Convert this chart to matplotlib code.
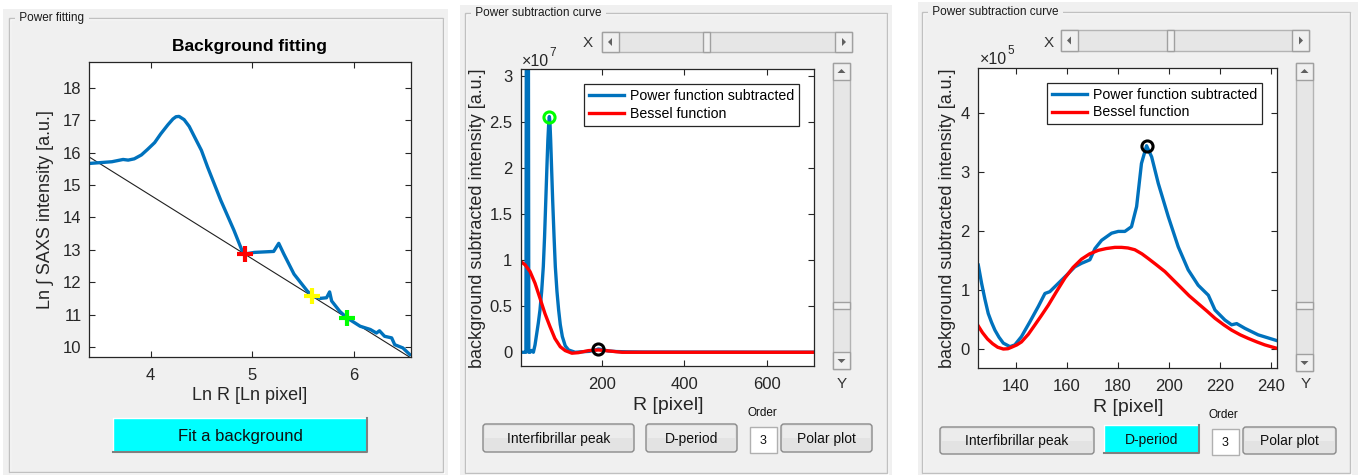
import numpy as np
import matplotlib
matplotlib.use('Agg')
import matplotlib.pyplot as plt
from matplotlib.patches import Rectangle, FancyBboxPatch, Polygon

W, H = 1358, 475

# ---- panel 1: background fitting (log-log)
lnr = [3.39, 3.41, 3.62, 3.73, 3.78, 3.84, 3.91, 3.97, 4.04, 4.10, 4.17, 4.22, 4.25, 4.28,
       4.33, 4.38, 4.43, 4.50, 4.56, 4.69, 4.82, 4.90, 4.93, 5.02, 5.21, 5.26, 5.31, 5.41,
       5.54, 5.59, 5.67, 5.73, 5.76, 5.78, 5.86, 5.93, 6.06, 6.16, 6.22, 6.25, 6.30, 6.37,
       6.40, 6.48, 6.55]
lni = [15.67, 15.67, 15.72, 15.79, 15.77, 15.81, 15.93, 16.10, 16.31, 16.58, 16.86, 17.04,
       17.11, 17.12, 17.02, 16.81, 16.50, 16.07, 15.56, 14.53, 13.60, 12.97, 12.87, 12.92,
       12.95, 13.20, 12.87, 12.25, 11.73, 11.58, 11.50, 11.52, 11.70, 11.42, 11.10, 10.90,
       10.64, 10.54, 10.43, 10.50, 10.33, 10.28, 10.07, 9.97, 9.76]
fit_x = [3.39, 6.56]
fit_y = [15.88, 9.66]
cross_x = [4.93, 5.59, 5.93]
cross_y = [12.87, 11.58, 10.90]
cross_c = ['#ff0000', '#ffff00', '#00ff00']

# ---- panel 2: subtraction curve, full range (x1e7)
r2_blue = [5, 12, 17, 20.5, 24, 27, 31, 35, 39, 43, 47, 51, 55, 59, 62, 65, 68, 70, 72,
           73.6, 75, 76.8, 79, 81.6, 85, 88, 92, 96, 100, 105, 112, 120, 136, 150, 170,
           185, 192, 200, 215, 235, 260, 300, 400, 500, 600, 710]
i2_blue = [0, 0, 0, 12, 0, 0, 0.02, 0, 0.08, 0.2, 0.32, 0.46, 0.66, 0.93, 1.25, 1.65,
           2.05, 2.3, 2.48, 2.56, 2.5, 2.3, 2.0, 1.65, 1.25, 0.93, 0.66, 0.46, 0.3, 0.17,
           0.07, 0.025, 0, 0.005, 0.01, 0.025, 0.036, 0.03, 0.015, 0.008, 0.005, 0.003,
           0.002, 0.002, 0.001, 0.001]
r2_red = [4.4, 15, 27, 39, 51, 63, 75, 87, 100, 112, 128, 144, 168, 192, 216, 249, 400, 712]
i2_red = [0.985, 0.95, 0.876, 0.75, 0.586, 0.42, 0.28, 0.15, 0.06, 0.018, -0.01, -0.004,
          0.018, 0.025, 0.015, 0, 0, 0]
peak2_green = (73.6, 2.56)
peak2_black = (192, 0.036)

# ---- panel 3: subtraction curve, zoomed (x1e5)
r3_blue = [125.4, 126.7, 128, 129.3, 130.6, 131.9, 133.5, 135.2, 137.8, 139.7, 142.3, 145.6,
           148.9, 151.5, 153.4, 156.7, 160, 163.2, 165.8, 169.1, 171.1, 173.7, 177.6, 180.2,
           182.8, 185.4, 187.4, 189.3, 191.3, 193.3, 195.9, 199.8, 203.7, 207.6, 211.5,
           215.5, 218.1, 222, 224.6, 226.6, 229.8, 235, 242.5]
i3_blue = [1.42, 1.11, 0.84, 0.60, 0.45, 0.32, 0.20, 0.10, 0.04, 0.07, 0.21, 0.46, 0.72,
           0.94, 0.97, 1.11, 1.25, 1.39, 1.45, 1.51, 1.70, 1.84, 1.96, 1.99, 1.99, 2.07,
           2.41, 3.14, 3.44, 3.25, 2.80, 2.24, 1.73, 1.34, 1.08, 0.91, 0.66, 0.49, 0.41,
           0.43, 0.35, 0.24, 0.14]
r3_red = [125.4, 127, 129, 131, 133, 135.2, 137, 138.4, 140.5, 142.3, 145, 147.6, 150,
          152.8, 156, 159.3, 162.5, 165.8, 169, 172.4, 175.5, 178.9, 181.5, 184, 186.7,
          189.5, 192, 195, 198.5, 201.5, 205, 208, 211.5, 215, 218.1, 221.5, 224.6, 228,
          231.1, 234.5, 237.6, 240, 242.5]
i3_red = [0.39, 0.28, 0.17, 0.09, 0.03, 0.0, 0.005, 0.03, 0.07, 0.12, 0.25, 0.41, 0.56,
          0.74, 0.97, 1.20, 1.38, 1.52, 1.61, 1.67, 1.70, 1.72, 1.72, 1.71, 1.68, 1.61,
          1.53, 1.43, 1.31, 1.18, 1.03, 0.90, 0.77, 0.64, 0.52, 0.41, 0.32, 0.24, 0.18,
          0.12, 0.07, 0.04, 0.01]
peak3_black = (191.3, 3.43)

BLUE = '#0072bd'
TXT = '#262626'
FONT = 'Liberation Sans'
plt.rcParams['font.family'] = [FONT, 'DejaVu Sans']


def rect(x0, y0, x1, y1):
    return [x0 / W, 1 - y1 / H, (x1 - x0) / W, (y1 - y0) / H]


fig = plt.figure(figsize=(W / 100, H / 100), dpi=100, facecolor='white')
bg = fig.add_axes([0, 0, 1, 1], zorder=0)
bg.set_xlim(0, W)
bg.set_ylim(H, 0)
bg.axis('off')


def panel(x0, y0, x1, y1, bx0, by0, bx1, by1, title):
    bg.add_patch(Rectangle((x0, y0), x1 - x0, y1 - y0, fc='#f0f0f0', ec='none'))
    bg.add_patch(Rectangle((bx0 + 1, by0 + 1), bx1 - bx0, by1 - by0, fc='none', ec='white', lw=1))
    bg.add_patch(Rectangle((bx0, by0), bx1 - bx0, by1 - by0, fc='none', ec='#c0c0c0', lw=1))
    bg.text(bx0 + 7, by0, ' ' + title + ' ', fontsize=8.5, color='#1a1a1a', va='center',
            ha='left', bbox=dict(fc='#f0f0f0', ec='none', pad=1))


def button(x0, y0, x1, y1, label, cyan=False, fs=11):
    if cyan:
        bg.add_patch(Rectangle((x0, y0), x1 - x0, y1 - y0, fc='#00ffff', ec='none'))
        bg.plot([x0, x0, x1], [y1, y0, y0], color='white', lw=1)
        bg.plot([x0, x1, x1], [y1, y1, y0], color='#808080', lw=1.5)
    else:
        bg.add_patch(FancyBboxPatch((x0, y0), x1 - x0, y1 - y0,
                                    boxstyle='round,pad=0,rounding_size=3',
                                    fc='#e3e3e3', ec='#8a8a8a', lw=1))
        bg.add_patch(Rectangle((x0 + 2, y0 + 2), x1 - x0 - 4, (y1 - y0) / 2 - 2,
                               fc='#ececec', ec='none'))
    bg.text((x0 + x1) / 2, (y0 + y1) / 2 + 1, label, fontsize=fs, color='#101010',
            ha='center', va='center')


def hscroll(x0, y0, x1, y1, thumb):
    bg.add_patch(Rectangle((x0, y0), x1 - x0, y1 - y0, fc='#e6e6e6', ec='#b4b4b4', lw=1))
    h = y1 - y0
    for bx in (x0, x1 - 17):
        bg.add_patch(Rectangle((bx, y0), 17, h, fc='#f0f0f0', ec='#a0a0a0', lw=1))
    cy = (y0 + y1) / 2
    bg.add_patch(Polygon([[x0 + 10, cy - 4], [x0 + 10, cy + 4], [x0 + 6, cy]], fc='#606060'))
    bg.add_patch(Polygon([[x1 - 10, cy - 4], [x1 - 10, cy + 4], [x1 - 6, cy]], fc='#606060'))
    bg.add_patch(Rectangle((thumb, y0), 7, h, fc='#f0f0f0', ec='#a0a0a0', lw=1))


def vscroll(x0, y0, x1, y1, thumb):
    bg.add_patch(Rectangle((x0, y0), x1 - x0, y1 - y0, fc='#e6e6e6', ec='#b4b4b4', lw=1))
    w = x1 - x0
    for by in (y0, y1 - 17):
        bg.add_patch(Rectangle((x0, by), w, 17, fc='#f0f0f0', ec='#a0a0a0', lw=1))
    cx = (x0 + x1) / 2
    bg.add_patch(Polygon([[cx - 4, y0 + 10], [cx + 4, y0 + 10], [cx, y0 + 6]], fc='#606060'))
    bg.add_patch(Polygon([[cx - 4, y1 - 10], [cx + 4, y1 - 10], [cx, y1 - 6]], fc='#606060'))
    bg.add_patch(Rectangle((x0, thumb), w, 7, fc='#f0f0f0', ec='#a0a0a0', lw=1))


def style(ax, fs):
    ax.tick_params(direction='in', top=True, right=True, length=4, width=0.8,
                   colors=TXT, labelsize=fs)
    for s in ax.spines.values():
        s.set_color(TXT)
        s.set_linewidth(0.9)


# ---------------- panel 1
panel(3, 9, 448, 475, 9, 18, 443, 472, 'Power fitting')
ax1 = fig.add_axes(rect(88.5, 62, 411, 357), zorder=2)
ax1.plot(fit_x, fit_y, color='#202020', lw=0.8)
ax1.plot(lnr, lni, color=BLUE, lw=2.4, solid_capstyle='round', solid_joinstyle='round')
for cx, cy, cc in zip(cross_x, cross_y, cross_c):
    ax1.plot(cx, cy, marker='+', color=cc, ms=11, mew=3)
ax1.set_xlim(3.39, 6.56)
ax1.set_ylim(9.69, 18.8)
ax1.set_xticks([4, 5, 6])
ax1.set_yticks(range(10, 19))
style(ax1, 12)
ax1.tick_params(axis='x', pad=8)
ax1.tick_params(axis='y', pad=5)
bg.text(249, 47, 'Background fitting', fontsize=12.5, fontweight='bold', color='black',
        ha='center', va='center')
bg.text(250, 396, 'Ln R [Ln pixel]', fontsize=13, color=TXT, ha='center', va='center')
bg.text(45, 210, 'Ln \u222b SAXS intensity [a.u.]', fontsize=13, color=TXT, ha='center',
        va='center', rotation=90, family=[FONT, 'DejaVu Sans'])
button(113, 418, 367, 452, 'Fit a background', cyan=True, fs=12)


def subtraction(ax, fs):
    style(ax, fs)
    ax.tick_params(axis='x', pad=8)
    ax.tick_params(axis='y', pad=6)
    leg = ax.legend(loc='upper right', frameon=True, fancybox=False, edgecolor=TXT,
                    framealpha=1, fontsize=10.2, handlelength=2.5, handletextpad=0.4,
                    borderpad=0.35, labelspacing=0.25, borderaxespad=0)
    leg.get_frame().set_linewidth(0.9)
    return leg


# ---------------- panel 2
panel(460, 5, 892, 475, 465, 13, 887, 473, 'Power subtraction curve')
ax2 = fig.add_axes(rect(520.7, 69, 814.3, 366), zorder=2)
ax2.plot(r2_blue, np.array(i2_blue) * 1e7, color=BLUE, lw=2.4, label='Power function subtracted')
ax2.plot(r2_red, np.array(i2_red) * 1e7, color='#ff0000', lw=2.4, label='Bessel function')
ax2.plot(peak2_green[0], peak2_green[1] * 1e7, 'o', mfc='none', mec='#00ff00', ms=8, mew=2.2)
ax2.plot(peak2_black[0], peak2_black[1] * 1e7, 'o', mfc='none', mec='black', ms=8, mew=2.2)
ax2.set_xlim(4.4, 713.5)
ax2.set_ylim(-0.149e7, 3.076e7)
ax2.set_xticks([200, 400, 600])
y2t = [0, 0.5, 1, 1.5, 2, 2.5, 3]
ax2.set_yticks(np.array(y2t) * 1e7)
ax2.set_yticklabels(['0', '0.5', '1', '1.5', '2', '2.5', '3'])
leg2 = subtraction(ax2, 12)
leg2.set_bbox_to_anchor((0.948, 0.949))
bg.text(522, 62, '\u00d710', fontsize=11.5, color=TXT, ha='left', va='center')
bg.text(549, 53, '7', fontsize=8.5, color=TXT, ha='left', va='center')
bg.text(668, 406, 'R [pixel]', fontsize=14, color=TXT, ha='center', va='center')
bg.text(477, 218, 'background subtracted intensity [a.u.]', fontsize=13, color=TXT,
        ha='center', va='center', rotation=90)
bg.text(588, 43, 'X', fontsize=11, color='#333333', ha='center', va='center')
hscroll(602, 32, 852, 52, 703)
vscroll(833, 63, 850, 369, 302)
bg.text(842, 384, 'Y', fontsize=11, color='#333333', ha='center', va='center')
bg.text(762, 413, 'Order', fontsize=8.5, color='#101010', ha='center', va='center')
button(483, 424, 634, 452, 'Interfibrillar peak', fs=10)
button(646, 424, 737, 452, 'D-period', fs=10)
bg.add_patch(Rectangle((750, 427), 27, 26, fc='white', ec='#b0b0b0', lw=1))
bg.text(763.5, 441, '3', fontsize=9, color='#101010', ha='center', va='center')
button(781, 424, 872, 452, 'Polar plot', fs=10)

# ---------------- panel 3
panel(918, 2, 1358, 475, 922, 12, 1350, 473, 'Power subtraction curve')
ax3 = fig.add_axes(rect(978.3, 68.3, 1277.3, 367.7), zorder=2)
ax3.plot(r3_blue, np.array(i3_blue) * 1e5, color=BLUE, lw=2.4, label='Power function subtracted')
ax3.plot(r3_red, np.array(i3_red) * 1e5, color='#ff0000', lw=2.4, label='Bessel function')
ax3.plot(peak3_black[0], peak3_black[1] * 1e5, 'o', mfc='none', mec='black', ms=8, mew=2.2)
ax3.set_xlim(125.4, 242.5)
ax3.set_ylim(-0.316e5, 4.75e5)
ax3.set_xticks([140, 160, 180, 200, 220, 240])
ax3.set_yticks(np.array([0, 1, 2, 3, 4]) * 1e5)
ax3.set_yticklabels(['0', '1', '2', '3', '4'])
leg3 = subtraction(ax3, 12)
leg3.set_bbox_to_anchor((0.949, 0.951))
bg.text(980, 60, '\u00d710', fontsize=11.5, color=TXT, ha='left', va='center')
bg.text(1007, 51, '5', fontsize=8.5, color=TXT, ha='left', va='center')
bg.text(1128, 408, 'R [pixel]', fontsize=14, color=TXT, ha='center', va='center')
bg.text(948, 218, 'background subtracted intensity [a.u.]', fontsize=13, color=TXT,
        ha='center', va='center', rotation=90)
bg.text(1049, 43, 'X', fontsize=11, color='#333333', ha='center', va='center')
hscroll(1061, 30, 1309, 51, 1167)
vscroll(1296, 63, 1313, 371, 302)
bg.text(1306, 384, 'Y', fontsize=11, color='#333333', ha='center', va='center')
bg.text(1223, 415, 'Order', fontsize=8.5, color='#101010', ha='center', va='center')
button(940, 427, 1094, 454, 'Interfibrillar peak', fs=10)
button(1104, 425, 1199, 453, 'D-period', cyan=True, fs=10)
bg.add_patch(Rectangle((1212, 429), 27, 26, fc='white', ec='#b0b0b0', lw=1))
bg.text(1225.5, 443, '3', fontsize=9, color='#101010', ha='center', va='center')
button(1243, 427, 1336, 454, 'Polar plot', fs=10)

fig.savefig('out.png', dpi=100, facecolor='white')
